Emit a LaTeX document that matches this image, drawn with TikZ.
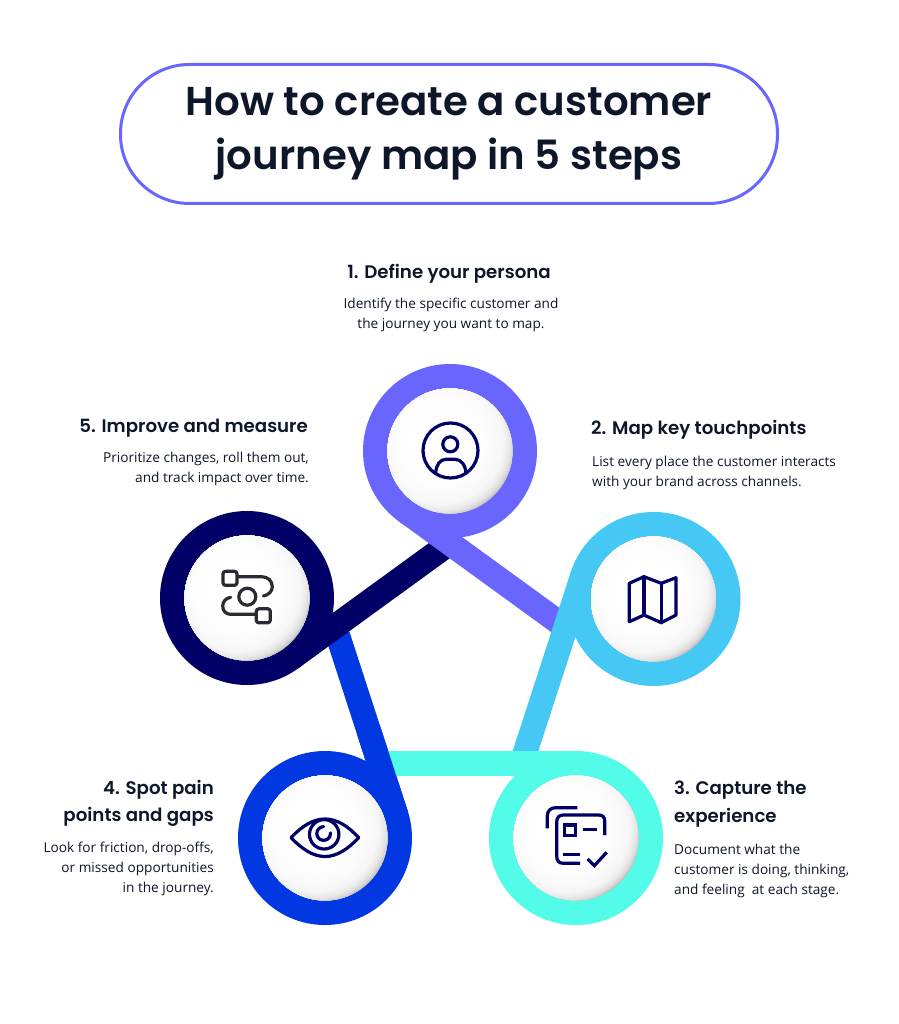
\documentclass[tikz,border=0pt]{standalone}
\usepackage{fontspec}
\usetikzlibrary{calc}
\setmainfont{Open Sans}
\newfontfamily\headfont{Poppins}[UprightFont=* SemiBold]
\newfontfamily\bodyfont{Open Sans}
\definecolor{cpurple}{HTML}{6966FF}
\definecolor{csky}{HTML}{45C8F4}
\definecolor{cteal}{HTML}{52FCE8}
\definecolor{cblue}{HTML}{0238E2}
\definecolor{cnavy}{HTML}{000066}
\definecolor{cink}{HTML}{0D1729}
\definecolor{cflow}{HTML}{2A2A33}
\tikzset{
  ring/.style={circle,draw=#1,line width=24.5pt,minimum size=149.5pt,inner sep=0pt,outer sep=0pt},
  tail/.style={draw=#1,line width=24.5pt,line cap=butt},
  ball/.style={circle,fill=black!30,minimum size=125pt,inner sep=0pt,outer sep=0pt,
    path picture={
      \foreach \r/\k in {75/24,74.5/22,74/20,73.5/18,73/16,72/13.5,71/11.5,70/10,69/8.8,68/7.7,67/6.7,66/5.8,65/5,64/4.3,63/3.7,62/3.2,60/2.6,56/2.1,52/1.6,48/1.1,44/0.7,38/0.3,32/0}
        \fill[black!\k!white] ($(path picture bounding box.center)+(-9,9)$) circle (\r);
    }},
  icon/.style={draw=cnavy,line width=3.2pt,line join=round,line cap=round,fill=none},
  flowicon/.style={draw=cflow,line width=3.2pt,line join=round,line cap=round,fill=none},
  head/.style={font=\headfont\fontsize{18.2}{27.5}\selectfont,text=cink,inner sep=0pt},
  body/.style={font=\bodyfont\fontsize{13.65}{19.8}\selectfont,text=cink,inner sep=0pt},
}
\begin{document}
\begin{tikzpicture}[x=1pt,y=1pt]
\useasboundingbox (0,0) rectangle (898,-1024);
\fill[white] (0,0) rectangle (898,-1024);
% title
\node[draw=cpurple,line width=3pt,rounded corners=69pt,minimum width=657pt,minimum height=139pt,inner sep=0pt,align=center,text=cink,font=\headfont\fontsize{40.3}{53.4}\selectfont] (title) at (449,-134) {\raisebox{1pt}{How to create a customer}\\journey map in 5 steps};
% rings and tails
\coordinate (p1) at (450,-451);
\coordinate (p2) at (653.5,-599);
\coordinate (p3) at (576,-838);
\coordinate (p4) at (325,-838);
\coordinate (p5) at (247,-598);
\coordinate (a1) at ($(p1)+(234:74.75)$);
\coordinate (e1) at ($(a1)+(-36:196)$);
\coordinate (a2) at ($(p2)+(162:74.75)$);
\coordinate (e2) at ($(a2)+(-108:195)$);
\coordinate (a3) at ($(p3)+(90:74.75)$);
\coordinate (e3) at (380,-763.25);
\coordinate (a4) at ($(p4)+(18:74.75)$);
\coordinate (e4) at ($(a4)+(108:189)$);
\coordinate (m4) at ($(a4)+(108:90)$);
\coordinate (a5) at ($(p5)+(-54:74.75)$);
\coordinate (e5) at ($(a5)+(36:196)$);
\node[ring=cblue] (r4) at (p4) {};
\draw[tail=cblue] (a4) -- (e4);
\node[ring=cnavy] (r5) at (p5) {};
\draw[tail=cnavy] (a5) -- (e5);
\node[ring=cpurple] (r1) at (p1) {};
\draw[tail=cpurple] (a1) -- (e1);
\node[ring=csky] (r2) at (p2) {};
\draw[tail=csky] (a2) -- (e2);
\node[ring=cteal] (r3) at (p3) {};
\draw[tail=cteal] (a3) -- (e3);
\draw[tail=cblue] (a4) -- (m4);
% balls
\node[ball] (b1) at (p1) {};
\node[ball] (b2) at (p2) {};
\node[ball] (b3) at (p3) {};
\node[ball] (b4) at (p4) {};
\node[ball] (b5) at (p5) {};
% person icon
\draw[icon] (450.5,-450.5) circle (27.5);
\draw[icon] (450.3,-444.3) circle (7.5);
\draw[icon] (435.7,-473.3) .. controls (436,-465) and (440,-459.3) .. (446,-459.3) -- (455,-459.3) .. controls (461,-459.3) and (465.5,-465) .. (466,-473.3);
% map icon
\draw[icon] (629.3,-583.3) -- (644,-576.7) -- (661.3,-583.3) -- (676,-577.7) -- (676,-615) -- (661.3,-622.7) -- (644,-615) -- (629.3,-621.7) -- cycle;
\draw[icon] (644,-576.7) -- (644,-615);
\draw[icon] (661.3,-583.3) -- (661.3,-622.7);
% checklist icon
\begin{scope}[icon/.append style={line cap=butt,line join=miter}]
\draw[icon] (547.3,-828.3) -- (547.3,-816) .. controls (547.3,-811) and (550.5,-807.7) .. (555.5,-807.7) -- (577.3,-807.7);
\draw[icon] (604.7,-835) -- (604.7,-821) .. controls (604.7,-817) and (602.5,-815) .. (598.5,-815) -- (563.5,-815) .. controls (559,-815) and (556.7,-817.5) .. (556.7,-822) -- (556.7,-856) .. controls (556.7,-861) and (559,-863.3) .. (563.5,-863.3) -- (580,-863.3);
\draw[icon] (564.3,-825) rectangle (575.7,-835.7);
\draw[icon] (582.7,-829.3) -- (596.7,-829.3);
\draw[icon] (563.3,-854.3) -- (580,-854.3);
\draw[icon] (587.7,-859) -- (594.3,-865.7) -- (606.7,-852.3);
\end{scope}
% eye icon
\draw[icon] (291,-837.7) .. controls (302,-826) and (313,-819) .. (325,-819) .. controls (337,-819) and (348,-826) .. (358.7,-837.7) .. controls (348,-849) and (337,-856.5) .. (325,-856.5) .. controls (313,-856.5) and (302,-849) .. (291,-837.7) -- cycle;
\draw[icon] (324.2,-834.3) circle (14.7);
\draw[icon] (323.7,-826.6) arc (90:365:6.9);
% flow icon
\draw[flowicon,rounded corners=2.5pt] (223,-571.3) rectangle (237,-585.3);
\draw[flowicon] (238.3,-576.7) -- (261.7,-576.7) .. controls (268,-576.7) and (272.3,-581) .. (272.3,-586.7) .. controls (272.3,-591.5) and (268.5,-595) .. (263.3,-596);
\draw[flowicon] (247.3,-596.7) circle (8.5);
\draw[flowicon] (230.7,-597.3) .. controls (226,-598) and (222.7,-601.5) .. (222.7,-606) .. controls (222.7,-611) and (226,-614.3) .. (230.7,-614.3) -- (255,-614.3);
\draw[flowicon,rounded corners=2.5pt] (256.3,-608.8) rectangle (270.3,-622.8);
% texts
\node[head,anchor=base] (h1) at (449,-278) {1. Define your persona};
\node[body,anchor=north,align=center] (t1) at (451,-298) {Identify the specific customer and\\the journey you want to map.};
\node[head,anchor=base west] (h2) at (591,-434) {2. Map key touchpoints};
\node[body,anchor=north west,align=left] (t2) at (592,-456) {List every place the customer interacts\\with your brand across channels.};
\node[head,anchor=north west,align=left] (h3) at (674,-781) {3. Capture the\\experience};
\node[body,anchor=north west,align=left] (t3) at (674,-844) {Document what the\\customer is doing, thinking,\\and feeling~ at each stage.};
\node[head,anchor=north east,align=right] (h4) at (214,-780) {4. Spot pain\\points and gaps};
\node[body,anchor=north east,align=right] (t4) at (214,-842) {Look for friction, drop-offs,\\or missed opportunities\\in the journey.};
\node[head,anchor=base east] (h5) at (308,-432) {5. Improve and measure};
\node[body,anchor=north east,align=right] (t5) at (309,-452) {Prioritize changes, roll them out,\\and track impact over time.};
\end{tikzpicture}
\end{document}
